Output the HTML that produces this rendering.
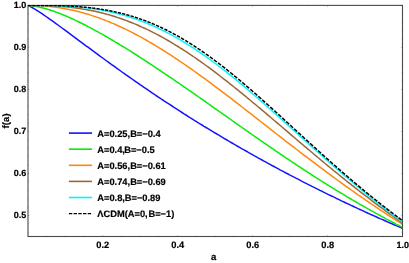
<!DOCTYPE html>
<html><head><meta charset="utf-8"><title>f(a)</title>
<style>
html,body{margin:0;padding:0;background:#fff;}
body{width:409px;height:263px;overflow:hidden;}
svg{display:block;will-change:transform;}
text{font-family:"Liberation Sans",sans-serif;font-weight:bold;font-size:9px;fill:#000;stroke:#000;stroke-width:0.18px;text-rendering:geometricPrecision;}
</style></head><body>
<svg width="409" height="263" viewBox="0 0 409 263">
<rect x="0" y="0" width="409" height="263" fill="#fff"/>
<defs><clipPath id="c"><rect x="27.5" y="4.9" width="375.5" height="231.6"/></clipPath></defs>
<g clip-path="url(#c)" fill="none" stroke-width="1.5" stroke-linejoin="round">
<path d="M28.0 5.5 L30.0 6.4 L32.0 7.5 L34.0 8.6 L36.0 9.8 L38.0 11.1 L40.0 12.4 L42.0 13.7 L44.0 15.1 L46.0 16.5 L48.0 17.9 L50.0 19.3 L52.0 20.7 L54.0 22.1 L56.0 23.6 L58.0 25.0 L60.0 26.5 L62.0 28.0 L64.0 29.4 L66.0 30.9 L68.0 32.4 L70.0 33.9 L72.0 35.4 L74.0 36.8 L76.0 38.3 L78.0 39.8 L80.0 41.3 L82.0 42.8 L84.0 44.3 L86.0 45.8 L88.0 47.2 L90.0 48.7 L92.0 50.2 L94.0 51.7 L96.0 53.1 L98.0 54.6 L100.0 56.1 L102.0 57.5 L104.0 59.0 L106.0 60.5 L108.0 61.9 L110.0 63.4 L112.0 64.8 L114.0 66.2 L116.0 67.7 L118.0 69.1 L120.0 70.5 L122.0 72.0 L124.0 73.4 L126.0 74.8 L128.0 76.2 L130.0 77.6 L132.0 79.0 L134.0 80.4 L136.0 81.8 L138.0 83.2 L140.0 84.6 L142.0 85.9 L144.0 87.3 L146.0 88.7 L148.0 90.0 L150.0 91.4 L152.0 92.8 L154.0 94.1 L156.0 95.5 L158.0 96.8 L160.0 98.1 L162.0 99.5 L164.0 100.8 L166.0 102.1 L168.0 103.4 L170.0 104.7 L172.0 106.0 L174.0 107.3 L176.0 108.6 L178.0 109.9 L180.0 111.2 L182.0 112.5 L184.0 113.8 L186.0 115.0 L188.0 116.3 L190.0 117.6 L192.0 118.8 L194.0 120.1 L196.0 121.3 L198.0 122.6 L200.0 123.8 L202.0 125.0 L204.0 126.3 L206.0 127.5 L208.0 128.7 L210.0 129.9 L212.0 131.1 L214.0 132.3 L216.0 133.5 L218.0 134.7 L220.0 135.9 L222.0 137.1 L224.0 138.3 L226.0 139.5 L228.0 140.7 L230.0 141.8 L232.0 143.0 L234.0 144.2 L236.0 145.3 L238.0 146.5 L240.0 147.6 L242.0 148.8 L244.0 149.9 L246.0 151.0 L248.0 152.2 L250.0 153.3 L252.0 154.4 L254.0 155.6 L256.0 156.7 L258.0 157.8 L260.0 158.9 L262.0 160.0 L264.0 161.1 L266.0 162.2 L268.0 163.3 L270.0 164.4 L272.0 165.5 L274.0 166.5 L276.0 167.6 L278.0 168.7 L280.0 169.8 L282.0 170.8 L284.0 171.9 L286.0 173.0 L288.0 174.0 L290.0 175.1 L292.0 176.1 L294.0 177.1 L296.0 178.2 L298.0 179.2 L300.0 180.2 L302.0 181.3 L304.0 182.3 L306.0 183.3 L308.0 184.3 L310.0 185.3 L312.0 186.4 L314.0 187.4 L316.0 188.4 L318.0 189.4 L320.0 190.4 L322.0 191.3 L324.0 192.3 L326.0 193.3 L328.0 194.3 L330.0 195.3 L332.0 196.2 L334.0 197.2 L336.0 198.2 L338.0 199.1 L340.0 200.1 L342.0 201.1 L344.0 202.0 L346.0 203.0 L348.0 203.9 L350.0 204.8 L352.0 205.8 L354.0 206.7 L356.0 207.6 L358.0 208.6 L360.0 209.5 L362.0 210.4 L364.0 211.3 L366.0 212.3 L368.0 213.2 L370.0 214.1 L372.0 215.0 L374.0 215.9 L376.0 216.8 L378.0 217.7 L380.0 218.6 L382.0 219.4 L384.0 220.3 L386.0 221.2 L388.0 222.1 L390.0 223.0 L392.0 223.8 L394.0 224.7 L396.0 225.6 L398.0 226.4 L400.0 227.3 L402.0 228.1 L402.5 228.3" stroke="#1414ff"/>
<path d="M28.0 5.4 L30.0 5.5 L32.0 5.7 L34.0 6.0 L36.0 6.4 L38.0 6.8 L40.0 7.2 L42.0 7.7 L44.0 8.2 L46.0 8.8 L48.0 9.4 L50.0 10.0 L52.0 10.7 L54.0 11.3 L56.0 12.1 L58.0 12.8 L60.0 13.6 L62.0 14.4 L64.0 15.2 L66.0 16.0 L68.0 16.9 L70.0 17.8 L72.0 18.7 L74.0 19.6 L76.0 20.6 L78.0 21.5 L80.0 22.5 L82.0 23.5 L84.0 24.5 L86.0 25.5 L88.0 26.6 L90.0 27.6 L92.0 28.7 L94.0 29.8 L96.0 30.8 L98.0 31.9 L100.0 33.1 L102.0 34.2 L104.0 35.3 L106.0 36.5 L108.0 37.6 L110.0 38.8 L112.0 40.0 L114.0 41.2 L116.0 42.3 L118.0 43.5 L120.0 44.8 L122.0 46.0 L124.0 47.2 L126.0 48.4 L128.0 49.7 L130.0 50.9 L132.0 52.2 L134.0 53.5 L136.0 54.7 L138.0 56.0 L140.0 57.3 L142.0 58.6 L144.0 59.9 L146.0 61.2 L148.0 62.5 L150.0 63.8 L152.0 65.1 L154.0 66.4 L156.0 67.8 L158.0 69.1 L160.0 70.4 L162.0 71.8 L164.0 73.1 L166.0 74.5 L168.0 75.8 L170.0 77.2 L172.0 78.5 L174.0 79.9 L176.0 81.3 L178.0 82.6 L180.0 84.0 L182.0 85.4 L184.0 86.8 L186.0 88.2 L188.0 89.6 L190.0 90.9 L192.0 92.3 L194.0 93.7 L196.0 95.1 L198.0 96.5 L200.0 97.9 L202.0 99.3 L204.0 100.7 L206.0 102.1 L208.0 103.5 L210.0 104.9 L212.0 106.4 L214.0 107.8 L216.0 109.2 L218.0 110.6 L220.0 112.0 L222.0 113.4 L224.0 114.8 L226.0 116.2 L228.0 117.6 L230.0 119.0 L232.0 120.5 L234.0 121.9 L236.0 123.3 L238.0 124.7 L240.0 126.1 L242.0 127.5 L244.0 128.9 L246.0 130.3 L248.0 131.7 L250.0 133.1 L252.0 134.5 L254.0 135.9 L256.0 137.3 L258.0 138.7 L260.0 140.1 L262.0 141.4 L264.0 142.8 L266.0 144.2 L268.0 145.6 L270.0 147.0 L272.0 148.3 L274.0 149.7 L276.0 151.1 L278.0 152.4 L280.0 153.8 L282.0 155.2 L284.0 156.5 L286.0 157.9 L288.0 159.2 L290.0 160.5 L292.0 161.9 L294.0 163.2 L296.0 164.5 L298.0 165.9 L300.0 167.2 L302.0 168.5 L304.0 169.8 L306.0 171.1 L308.0 172.4 L310.0 173.7 L312.0 175.0 L314.0 176.3 L316.0 177.6 L318.0 178.8 L320.0 180.1 L322.0 181.4 L324.0 182.6 L326.0 183.9 L328.0 185.1 L330.0 186.4 L332.0 187.6 L334.0 188.8 L336.0 190.1 L338.0 191.3 L340.0 192.5 L342.0 193.7 L344.0 194.9 L346.0 196.1 L348.0 197.3 L350.0 198.5 L352.0 199.7 L354.0 200.8 L356.0 202.0 L358.0 203.2 L360.0 204.3 L362.0 205.5 L364.0 206.6 L366.0 207.7 L368.0 208.9 L370.0 210.0 L372.0 211.1 L374.0 212.2 L376.0 213.3 L378.0 214.4 L380.0 215.5 L382.0 216.6 L384.0 217.7 L386.0 218.8 L388.0 219.8 L390.0 220.9 L392.0 222.0 L394.0 223.0 L396.0 224.1 L398.0 225.1 L400.0 226.1 L402.0 227.1 L402.5 227.4" stroke="#08ea08"/>
<path d="M28.0 5.4 L30.0 5.4 L32.0 5.4 L34.0 5.5 L36.0 5.5 L38.0 5.6 L40.0 5.7 L42.0 5.8 L44.0 6.0 L46.0 6.1 L48.0 6.3 L50.0 6.5 L52.0 6.7 L54.0 7.0 L56.0 7.3 L58.0 7.5 L60.0 7.8 L62.0 8.2 L64.0 8.5 L66.0 8.9 L68.0 9.3 L70.0 9.7 L72.0 10.1 L74.0 10.6 L76.0 11.0 L78.0 11.5 L80.0 12.0 L82.0 12.6 L84.0 13.1 L86.0 13.7 L88.0 14.3 L90.0 14.9 L92.0 15.6 L94.0 16.2 L96.0 16.9 L98.0 17.6 L100.0 18.3 L102.0 19.1 L104.0 19.8 L106.0 20.6 L108.0 21.4 L110.0 22.2 L112.0 23.1 L114.0 23.9 L116.0 24.8 L118.0 25.7 L120.0 26.6 L122.0 27.5 L124.0 28.5 L126.0 29.4 L128.0 30.4 L130.0 31.4 L132.0 32.4 L134.0 33.5 L136.0 34.5 L138.0 35.6 L140.0 36.6 L142.0 37.7 L144.0 38.9 L146.0 40.0 L148.0 41.1 L150.0 42.3 L152.0 43.5 L154.0 44.7 L156.0 45.9 L158.0 47.1 L160.0 48.3 L162.0 49.5 L164.0 50.8 L166.0 52.1 L168.0 53.3 L170.0 54.6 L172.0 55.9 L174.0 57.3 L176.0 58.6 L178.0 59.9 L180.0 61.3 L182.0 62.6 L184.0 64.0 L186.0 65.4 L188.0 66.8 L190.0 68.2 L192.0 69.6 L194.0 71.0 L196.0 72.4 L198.0 73.9 L200.0 75.3 L202.0 76.8 L204.0 78.2 L206.0 79.7 L208.0 81.1 L210.0 82.6 L212.0 84.1 L214.0 85.6 L216.0 87.1 L218.0 88.6 L220.0 90.1 L222.0 91.6 L224.0 93.1 L226.0 94.7 L228.0 96.2 L230.0 97.7 L232.0 99.2 L234.0 100.8 L236.0 102.3 L238.0 103.9 L240.0 105.4 L242.0 107.0 L244.0 108.5 L246.0 110.1 L248.0 111.6 L250.0 113.2 L252.0 114.7 L254.0 116.3 L256.0 117.9 L258.0 119.4 L260.0 121.0 L262.0 122.5 L264.0 124.1 L266.0 125.7 L268.0 127.2 L270.0 128.8 L272.0 130.4 L274.0 131.9 L276.0 133.5 L278.0 135.0 L280.0 136.6 L282.0 138.2 L284.0 139.7 L286.0 141.3 L288.0 142.8 L290.0 144.4 L292.0 145.9 L294.0 147.4 L296.0 149.0 L298.0 150.5 L300.0 152.1 L302.0 153.6 L304.0 155.1 L306.0 156.6 L308.0 158.2 L310.0 159.7 L312.0 161.2 L314.0 162.7 L316.0 164.2 L318.0 165.7 L320.0 167.2 L322.0 168.7 L324.0 170.2 L326.0 171.7 L328.0 173.2 L330.0 174.6 L332.0 176.1 L334.0 177.6 L336.0 179.0 L338.0 180.5 L340.0 181.9 L342.0 183.4 L344.0 184.8 L346.0 186.3 L348.0 187.7 L350.0 189.1 L352.0 190.5 L354.0 191.9 L356.0 193.4 L358.0 194.8 L360.0 196.1 L362.0 197.5 L364.0 198.9 L366.0 200.3 L368.0 201.7 L370.0 203.0 L372.0 204.4 L374.0 205.7 L376.0 207.1 L378.0 208.4 L380.0 209.8 L382.0 211.1 L384.0 212.4 L386.0 213.7 L388.0 215.0 L390.0 216.3 L392.0 217.6 L394.0 218.9 L396.0 220.2 L398.0 221.5 L400.0 222.7 L402.0 224.0 L402.5 224.3" stroke="#ff880c"/>
<path d="M28.0 5.4 L30.0 5.4 L32.0 5.4 L34.0 5.4 L36.0 5.4 L38.0 5.5 L40.0 5.5 L42.0 5.5 L44.0 5.6 L46.0 5.6 L48.0 5.7 L50.0 5.8 L52.0 5.9 L54.0 6.0 L56.0 6.1 L58.0 6.2 L60.0 6.3 L62.0 6.5 L64.0 6.7 L66.0 6.8 L68.0 7.0 L70.0 7.2 L72.0 7.5 L74.0 7.7 L76.0 8.0 L78.0 8.2 L80.0 8.5 L82.0 8.9 L84.0 9.2 L86.0 9.5 L88.0 9.9 L90.0 10.3 L92.0 10.7 L94.0 11.1 L96.0 11.5 L98.0 12.0 L100.0 12.5 L102.0 12.9 L104.0 13.5 L106.0 14.0 L108.0 14.6 L110.0 15.1 L112.0 15.7 L114.0 16.3 L116.0 17.0 L118.0 17.6 L120.0 18.3 L122.0 19.0 L124.0 19.7 L126.0 20.4 L128.0 21.2 L130.0 22.0 L132.0 22.8 L134.0 23.6 L136.0 24.4 L138.0 25.3 L140.0 26.2 L142.0 27.1 L144.0 28.0 L146.0 28.9 L148.0 29.9 L150.0 30.8 L152.0 31.8 L154.0 32.9 L156.0 33.9 L158.0 34.9 L160.0 36.0 L162.0 37.1 L164.0 38.2 L166.0 39.4 L168.0 40.5 L170.0 41.7 L172.0 42.9 L174.0 44.1 L176.0 45.3 L178.0 46.5 L180.0 47.8 L182.0 49.0 L184.0 50.3 L186.0 51.6 L188.0 52.9 L190.0 54.3 L192.0 55.6 L194.0 57.0 L196.0 58.4 L198.0 59.8 L200.0 61.2 L202.0 62.6 L204.0 64.0 L206.0 65.5 L208.0 66.9 L210.0 68.4 L212.0 69.9 L214.0 71.4 L216.0 72.9 L218.0 74.4 L220.0 76.0 L222.0 77.5 L224.0 79.1 L226.0 80.6 L228.0 82.2 L230.0 83.8 L232.0 85.4 L234.0 87.0 L236.0 88.6 L238.0 90.2 L240.0 91.8 L242.0 93.4 L244.0 95.1 L246.0 96.7 L248.0 98.4 L250.0 100.0 L252.0 101.7 L254.0 103.4 L256.0 105.0 L258.0 106.7 L260.0 108.4 L262.0 110.1 L264.0 111.7 L266.0 113.4 L268.0 115.1 L270.0 116.8 L272.0 118.5 L274.0 120.2 L276.0 121.9 L278.0 123.6 L280.0 125.3 L282.0 127.0 L284.0 128.7 L286.0 130.4 L288.0 132.1 L290.0 133.9 L292.0 135.6 L294.0 137.3 L296.0 139.0 L298.0 140.7 L300.0 142.4 L302.0 144.1 L304.0 145.8 L306.0 147.4 L308.0 149.1 L310.0 150.8 L312.0 152.5 L314.0 154.2 L316.0 155.9 L318.0 157.5 L320.0 159.2 L322.0 160.9 L324.0 162.5 L326.0 164.2 L328.0 165.9 L330.0 167.5 L332.0 169.1 L334.0 170.8 L336.0 172.4 L338.0 174.0 L340.0 175.7 L342.0 177.3 L344.0 178.9 L346.0 180.5 L348.0 182.1 L350.0 183.7 L352.0 185.3 L354.0 186.9 L356.0 188.4 L358.0 190.0 L360.0 191.6 L362.0 193.1 L364.0 194.7 L366.0 196.2 L368.0 197.7 L370.0 199.2 L372.0 200.8 L374.0 202.3 L376.0 203.8 L378.0 205.3 L380.0 206.8 L382.0 208.2 L384.0 209.7 L386.0 211.2 L388.0 212.6 L390.0 214.1 L392.0 215.5 L394.0 216.9 L396.0 218.4 L398.0 219.8 L400.0 221.2 L402.0 222.6 L402.5 222.9" stroke="#9a6836"/>
<path d="M28.0 5.4 L30.0 5.4 L32.0 5.4 L34.0 5.4 L36.0 5.4 L38.0 5.4 L40.0 5.4 L42.0 5.4 L44.0 5.5 L46.0 5.5 L48.0 5.5 L50.0 5.6 L52.0 5.6 L54.0 5.6 L56.0 5.7 L58.0 5.8 L60.0 5.8 L62.0 5.9 L64.0 6.0 L66.0 6.1 L68.0 6.2 L70.0 6.4 L72.0 6.5 L74.0 6.6 L76.0 6.8 L78.0 7.0 L80.0 7.2 L82.0 7.4 L84.0 7.6 L86.0 7.8 L88.0 8.0 L90.0 8.3 L92.0 8.6 L94.0 8.9 L96.0 9.2 L98.0 9.5 L100.0 9.8 L102.0 10.2 L104.0 10.5 L106.0 10.9 L108.0 11.3 L110.0 11.8 L112.0 12.2 L114.0 12.7 L116.0 13.2 L118.0 13.7 L120.0 14.2 L122.0 14.7 L124.0 15.3 L126.0 15.9 L128.0 16.5 L130.0 17.1 L132.0 17.8 L134.0 18.4 L136.0 19.1 L138.0 19.8 L140.0 20.5 L142.0 21.3 L144.0 22.1 L146.0 22.9 L148.0 23.7 L150.0 24.5 L152.0 25.4 L154.0 26.3 L156.0 27.2 L158.0 28.1 L160.0 29.1 L162.0 30.0 L164.0 31.0 L166.0 32.0 L168.0 33.1 L170.0 34.1 L172.0 35.2 L174.0 36.3 L176.0 37.4 L178.0 38.6 L180.0 39.7 L182.0 40.9 L184.0 42.1 L186.0 43.3 L188.0 44.6 L190.0 45.9 L192.0 47.1 L194.0 48.4 L196.0 49.8 L198.0 51.1 L200.0 52.5 L202.0 53.8 L204.0 55.2 L206.0 56.7 L208.0 58.1 L210.0 59.5 L212.0 61.0 L214.0 62.5 L216.0 64.0 L218.0 65.5 L220.0 67.0 L222.0 68.6 L224.0 70.1 L226.0 71.7 L228.0 73.3 L230.0 74.9 L232.0 76.5 L234.0 78.1 L236.0 79.7 L238.0 81.4 L240.0 83.1 L242.0 84.7 L244.0 86.4 L246.0 88.1 L248.0 89.8 L250.0 91.5 L252.0 93.2 L254.0 95.0 L256.0 96.7 L258.0 98.4 L260.0 100.2 L262.0 101.9 L264.0 103.7 L266.0 105.5 L268.0 107.2 L270.0 109.0 L272.0 110.8 L274.0 112.6 L276.0 114.4 L278.0 116.2 L280.0 118.0 L282.0 119.8 L284.0 121.6 L286.0 123.4 L288.0 125.2 L290.0 127.0 L292.0 128.8 L294.0 130.6 L296.0 132.4 L298.0 134.2 L300.0 136.1 L302.0 137.9 L304.0 139.7 L306.0 141.5 L308.0 143.3 L310.0 145.1 L312.0 146.9 L314.0 148.7 L316.0 150.5 L318.0 152.3 L320.0 154.0 L322.0 155.8 L324.0 157.6 L326.0 159.4 L328.0 161.1 L330.0 162.9 L332.0 164.7 L334.0 166.4 L336.0 168.2 L338.0 169.9 L340.0 171.7 L342.0 173.4 L344.0 175.1 L346.0 176.8 L348.0 178.5 L350.0 180.2 L352.0 181.9 L354.0 183.6 L356.0 185.3 L358.0 187.0 L360.0 188.7 L362.0 190.3 L364.0 192.0 L366.0 193.6 L368.0 195.2 L370.0 196.9 L372.0 198.5 L374.0 200.1 L376.0 201.7 L378.0 203.3 L380.0 204.9 L382.0 206.4 L384.0 208.0 L386.0 209.6 L388.0 211.1 L390.0 212.7 L392.0 214.2 L394.0 215.7 L396.0 217.2 L398.0 218.7 L400.0 220.2 L402.0 221.7 L402.5 222.1" stroke="#00f6ff"/>
</g>
<rect x="28.0" y="5.4" width="374.5" height="231.1" fill="none" stroke="#4a4a4a" stroke-width="1.1"/>
<path d="M28.0 215.5h1.2 M402.5 215.5h-1.2 M28.0 207.1h0.8 M402.5 207.1h-0.8 M28.0 198.7h0.8 M402.5 198.7h-0.8 M28.0 190.3h0.8 M402.5 190.3h-0.8 M28.0 181.9h0.8 M402.5 181.9h-0.8 M28.0 173.5h1.2 M402.5 173.5h-1.2 M28.0 165.1h0.8 M402.5 165.1h-0.8 M28.0 156.7h0.8 M402.5 156.7h-0.8 M28.0 148.3h0.8 M402.5 148.3h-0.8 M28.0 139.9h0.8 M402.5 139.9h-0.8 M28.0 131.5h1.2 M402.5 131.5h-1.2 M28.0 123.1h0.8 M402.5 123.1h-0.8 M28.0 114.7h0.8 M402.5 114.7h-0.8 M28.0 106.2h0.8 M402.5 106.2h-0.8 M28.0 97.8h0.8 M402.5 97.8h-0.8 M28.0 89.4h1.2 M402.5 89.4h-1.2 M28.0 81.0h0.8 M402.5 81.0h-0.8 M28.0 72.6h0.8 M402.5 72.6h-0.8 M28.0 64.2h0.8 M402.5 64.2h-0.8 M28.0 55.8h0.8 M402.5 55.8h-0.8 M28.0 47.4h1.2 M402.5 47.4h-1.2 M28.0 39.0h0.8 M402.5 39.0h-0.8 M28.0 30.6h0.8 M402.5 30.6h-0.8 M28.0 22.2h0.8 M402.5 22.2h-0.8 M28.0 13.8h0.8 M402.5 13.8h-0.8 M28.0 5.4h1.2 M402.5 5.4h-1.2 M28.0 232.3h0.8 M402.5 232.3h-0.8 M28.0 223.9h0.8 M402.5 223.9h-0.8 M46.3 236.5v-0.8 M46.3 5.4v0.8 M65.1 236.5v-0.8 M65.1 5.4v0.8 M83.8 236.5v-0.8 M83.8 5.4v0.8 M102.6 236.5v-1.2 M102.6 5.4v1.2 M121.3 236.5v-0.8 M121.3 5.4v0.8 M140.1 236.5v-0.8 M140.1 5.4v0.8 M158.8 236.5v-0.8 M158.8 5.4v0.8 M177.6 236.5v-1.2 M177.6 5.4v1.2 M196.3 236.5v-0.8 M196.3 5.4v0.8 M215.1 236.5v-0.8 M215.1 5.4v0.8 M233.8 236.5v-0.8 M233.8 5.4v0.8 M252.5 236.5v-1.2 M252.5 5.4v1.2 M271.3 236.5v-0.8 M271.3 5.4v0.8 M290.0 236.5v-0.8 M290.0 5.4v0.8 M308.8 236.5v-0.8 M308.8 5.4v0.8 M327.5 236.5v-1.2 M327.5 5.4v1.2 M346.3 236.5v-0.8 M346.3 5.4v0.8 M365.0 236.5v-0.8 M365.0 5.4v0.8 M383.8 236.5v-0.8 M383.8 5.4v0.8" stroke="#4a4a4a" stroke-width="0.45" fill="none"/>
<g clip-path="url(#c)" fill="none" stroke-width="1.5" stroke-linejoin="round">
<path d="M28.00 5.40L28.50 5.40L29.00 5.40L29.50 5.40L30.00 5.40L30.50 5.40L31.00 5.40L31.20 5.40M32.30 5.40L32.80 5.40L33.30 5.40L33.80 5.40L34.30 5.40L34.80 5.40L35.30 5.40L35.50 5.40M36.60 5.41L37.10 5.41L37.60 5.41L38.10 5.41L38.60 5.41L39.10 5.41L39.60 5.42L39.80 5.42M40.90 5.42L41.40 5.42L41.90 5.43L42.40 5.43L42.90 5.43L43.40 5.44L43.90 5.44L44.00 5.44M45.20 5.45L45.70 5.46L46.20 5.46L46.70 5.47L47.20 5.47L47.70 5.48L48.20 5.48L48.30 5.48M49.40 5.50L49.90 5.51L50.40 5.51L50.90 5.52L51.40 5.53L51.90 5.54L52.40 5.55L52.60 5.55M53.70 5.57L54.20 5.58L54.70 5.59L55.20 5.60L55.70 5.61L56.20 5.63L56.70 5.64L56.90 5.64M58.00 5.67L58.50 5.68L59.00 5.70L59.50 5.71L60.00 5.73L60.50 5.74L61.00 5.76L61.20 5.77M62.30 5.80L62.80 5.82L63.30 5.84L63.80 5.86L64.30 5.88L64.80 5.90L65.30 5.92L65.40 5.92M66.60 5.97L67.10 6.00L67.60 6.02L68.10 6.04L68.60 6.07L69.10 6.09L69.60 6.12L69.70 6.12M70.80 6.18L71.30 6.21L71.80 6.24L72.30 6.26L72.80 6.29L73.30 6.32L73.80 6.36L74.00 6.37M75.10 6.44L75.60 6.47L76.10 6.51L76.60 6.54L77.10 6.58L77.60 6.61L78.10 6.65L78.30 6.66M79.40 6.75L79.90 6.79L80.40 6.83L80.90 6.87L81.40 6.91L81.90 6.95L82.40 7.00L82.60 7.01M83.70 7.11L84.20 7.16L84.70 7.21L85.20 7.25L85.70 7.30L86.20 7.35L86.70 7.40L86.80 7.41M88.00 7.54L88.50 7.59L89.00 7.65L89.50 7.70L90.00 7.76L90.50 7.81L91.00 7.87L91.10 7.88M92.20 8.01L92.70 8.08L93.20 8.14L93.70 8.20L94.20 8.27L94.70 8.33L95.20 8.40L95.40 8.42M96.50 8.57L97.00 8.64L97.50 8.71L98.00 8.78L98.50 8.85L99.00 8.93L99.50 9.00L99.70 9.03M100.80 9.20L101.30 9.28L101.80 9.36L102.30 9.44L102.80 9.52L103.30 9.60L103.80 9.68L103.90 9.70M105.00 9.89L105.50 9.98L106.00 10.06L106.50 10.15L107.00 10.24L107.50 10.33L108.00 10.43L108.20 10.46M109.30 10.67L109.80 10.77L110.30 10.87L110.80 10.96L111.30 11.06L111.80 11.17L112.30 11.27L112.50 11.31M113.60 11.54L114.10 11.65L114.60 11.75L115.10 11.86L115.60 11.97L116.10 12.08L116.60 12.20L116.70 12.22M117.80 12.47L118.30 12.59L118.80 12.70L119.30 12.82L119.80 12.94L120.30 13.06L120.80 13.19L121.00 13.24M122.10 13.51L122.60 13.64L123.10 13.77L123.60 13.90L124.10 14.03L124.60 14.16L125.10 14.29L125.20 14.32M126.30 14.62L126.80 14.76L127.30 14.90L127.80 15.04L128.30 15.18L128.80 15.32L129.30 15.47L129.50 15.52M130.60 15.85L131.10 16.00L131.60 16.15L132.10 16.30L132.60 16.45L133.10 16.61L133.60 16.76L133.70 16.79M134.80 17.14L135.30 17.30L135.80 17.46L136.30 17.63L136.80 17.79L137.30 17.96L137.80 18.12L138.00 18.19M139.10 18.56L139.60 18.74L140.10 18.91L140.60 19.09L141.10 19.26L141.60 19.44L142.10 19.62L142.20 19.65M143.30 20.05L143.80 20.24L144.30 20.42L144.80 20.61L145.30 20.80L145.80 20.99L146.30 21.18L146.40 21.21M147.50 21.64L148.00 21.84L148.50 22.03L149.00 22.23L149.50 22.43L150.00 22.63L150.50 22.83L150.60 22.87M151.70 23.33L152.20 23.53L152.70 23.74L153.20 23.95L153.70 24.16L154.20 24.38L154.70 24.59L154.80 24.63M156.00 25.16L156.50 25.38L157.00 25.60L157.50 25.82L158.00 26.04L158.50 26.27L159.00 26.50L159.10 26.54M160.20 27.05L160.70 27.28L161.20 27.51L161.70 27.74L162.20 27.98L162.70 28.22L163.20 28.46M164.40 29.04L164.90 29.28L165.40 29.52L165.90 29.77L166.40 30.02L166.90 30.27L167.40 30.52M168.50 31.08L169.00 31.33L169.50 31.59L170.00 31.85L170.50 32.11L171.00 32.37L171.50 32.63L171.60 32.68M172.70 33.26L173.20 33.53L173.70 33.80L174.20 34.07L174.70 34.34L175.20 34.61L175.70 34.89L175.80 34.94M176.90 35.55L177.40 35.83L177.90 36.11L178.40 36.39L178.90 36.68L179.40 36.96L179.90 37.25M181.00 37.88L181.50 38.17L182.00 38.46L182.50 38.76L183.00 39.05L183.50 39.35L184.00 39.64L184.10 39.70M185.20 40.36L185.70 40.66L186.20 40.97L186.70 41.27L187.20 41.58L187.70 41.88L188.20 42.19M189.30 42.87L189.80 43.19L190.30 43.50L190.80 43.82L191.30 44.13L191.80 44.45L192.30 44.77L192.40 44.83M193.50 45.54L194.00 45.87L194.50 46.19L195.00 46.52L195.50 46.84L196.00 47.17L196.50 47.50M197.60 48.23L198.10 48.57L198.60 48.90L199.10 49.24L199.60 49.58L200.10 49.92L200.60 50.26M201.70 51.01L202.20 51.35L202.70 51.70L203.20 52.05L203.70 52.39L204.20 52.74L204.70 53.09M205.80 53.87L206.30 54.22L206.80 54.58L207.30 54.93L207.80 55.29L208.30 55.65L208.80 56.01M209.90 56.80L210.40 57.17L210.90 57.53L211.40 57.90L211.90 58.26L212.40 58.63L212.90 59.00M213.90 59.74L214.40 60.11L214.90 60.49L215.40 60.86L215.90 61.24L216.40 61.61L216.90 61.99M218.00 62.83L218.50 63.21L219.00 63.59L219.50 63.97L220.00 64.36L220.50 64.74L221.00 65.13M222.10 65.98L222.60 66.37L223.10 66.76L223.60 67.15L224.10 67.54L224.60 67.94L225.10 68.33M226.10 69.12L226.60 69.52L227.10 69.92L227.60 70.31L228.10 70.71L228.60 71.11L229.10 71.52M230.20 72.40L230.70 72.81L231.20 73.21L231.70 73.62L232.20 74.02L232.70 74.43L233.20 74.84M234.20 75.66L234.70 76.07L235.20 76.48L235.70 76.89L236.20 77.31L236.70 77.72L237.20 78.14M238.30 79.05L238.80 79.47L239.30 79.89L239.80 80.31L240.30 80.73L240.80 81.15L241.20 81.48M242.30 82.41L242.80 82.84L243.30 83.26L243.80 83.69L244.30 84.11L244.80 84.54L245.20 84.88M246.30 85.82L246.80 86.25L247.30 86.68L247.80 87.11L248.30 87.54L248.80 87.97L249.20 88.31M250.30 89.27L250.80 89.70L251.30 90.13L251.80 90.57L252.30 91.00L252.80 91.44L253.30 91.88M254.30 92.75L254.80 93.19L255.30 93.63L255.80 94.07L256.30 94.51L256.80 94.95L257.30 95.39M258.30 96.27L258.80 96.71L259.30 97.16L259.80 97.60L260.30 98.04L260.80 98.49L261.30 98.93M262.30 99.82L262.80 100.27L263.30 100.71L263.80 101.16L264.30 101.61L264.80 102.05L265.20 102.41M266.30 103.40L266.80 103.85L267.30 104.30L267.80 104.74L268.30 105.19L268.80 105.64L269.20 106.01M270.30 107.00L270.80 107.45L271.30 107.90L271.80 108.35L272.30 108.80L272.80 109.26L273.20 109.62M274.30 110.62L274.80 111.07L275.30 111.52L275.80 111.98L276.30 112.43L276.80 112.89L277.20 113.25M278.30 114.25L278.80 114.71L279.30 115.16L279.80 115.62L280.30 116.07L280.80 116.53L281.20 116.90M282.30 117.90L282.80 118.36L283.30 118.81L283.80 119.27L284.30 119.73L284.80 120.18L285.20 120.55M286.20 121.47L286.70 121.92L287.20 122.38L287.70 122.84L288.20 123.30L288.70 123.75L289.20 124.21M290.20 125.13L290.70 125.59L291.20 126.04L291.70 126.50L292.20 126.96L292.70 127.42L293.10 127.79M294.20 128.79L294.70 129.25L295.20 129.71L295.70 130.17L296.20 130.63L296.70 131.08L297.10 131.45M298.20 132.46L298.70 132.92L299.20 133.38L299.70 133.83L300.20 134.29L300.70 134.75L301.10 135.11M302.20 136.12L302.70 136.58L303.20 137.04L303.70 137.49L304.20 137.95L304.70 138.41L305.10 138.77M306.10 139.69L306.60 140.14L307.10 140.60L307.60 141.06L308.10 141.51L308.60 141.97L309.10 142.42M310.10 143.33L310.60 143.79L311.10 144.24L311.60 144.70L312.10 145.15L312.60 145.61L313.10 146.06M314.10 146.97L314.60 147.42L315.10 147.88L315.60 148.33L316.10 148.78L316.60 149.24L317.00 149.60M318.10 150.59L318.60 151.04L319.10 151.49L319.60 151.95L320.10 152.40L320.60 152.85L321.00 153.21M322.10 154.20L322.60 154.65L323.10 155.10L323.60 155.55L324.10 155.99L324.60 156.44L325.00 156.80M326.10 157.79L326.60 158.23L327.10 158.68L327.60 159.13L328.10 159.57L328.60 160.02L329.00 160.37M330.10 161.35L330.60 161.80L331.10 162.24L331.60 162.68L332.10 163.13L332.60 163.57L333.00 163.92M334.10 164.90L334.60 165.34L335.10 165.78L335.60 166.22L336.10 166.66L336.60 167.10L337.00 167.45M338.10 168.41L338.60 168.85L339.10 169.29L339.60 169.73L340.10 170.16L340.60 170.60L341.00 170.95M342.10 171.91L342.60 172.34L343.10 172.78L343.60 173.21L344.10 173.64L344.60 174.08L345.00 174.42M346.10 175.37L346.60 175.80L347.10 176.23L347.60 176.66L348.10 177.09L348.60 177.52L349.00 177.87M350.10 178.81L350.60 179.24L351.10 179.66L351.60 180.09L352.10 180.51L352.60 180.94L353.10 181.36M354.10 182.21L354.60 182.64L355.10 183.06L355.60 183.48L356.10 183.90L356.60 184.32L357.10 184.75M358.10 185.59L358.60 186.00L359.10 186.42L359.60 186.84L360.10 187.26L360.60 187.68L361.10 188.09M362.20 189.01L362.70 189.42L363.20 189.84L363.70 190.25L364.20 190.66L364.70 191.08L365.10 191.41M366.20 192.31L366.70 192.72L367.20 193.13L367.70 193.54L368.20 193.95L368.70 194.36L369.20 194.77M370.20 195.58L370.70 195.99L371.20 196.39L371.70 196.80L372.20 197.20L372.70 197.60L373.20 198.01M374.30 198.89L374.80 199.29L375.30 199.69L375.80 200.09L376.30 200.49L376.80 200.89L377.30 201.29M378.30 202.09L378.80 202.48L379.30 202.88L379.80 203.27L380.30 203.67L380.80 204.06L381.30 204.46M382.40 205.32L382.90 205.71L383.40 206.10L383.90 206.49L384.40 206.88L384.90 207.27L385.40 207.66M386.40 208.44L386.90 208.82L387.40 209.21L387.90 209.60L388.40 209.98L388.90 210.37L389.40 210.75M390.50 211.59L391.00 211.97L391.50 212.36L392.00 212.74L392.50 213.12L393.00 213.50L393.50 213.87M394.60 214.71L395.10 215.08L395.60 215.46L396.10 215.83L396.60 216.21L397.10 216.58L397.60 216.96M398.60 217.70L399.10 218.07L399.60 218.45L400.10 218.82L400.60 219.19L401.10 219.56L401.60 219.92" stroke="#000000" stroke-width="1.45"/>
</g>
<g style="mix-blend-mode:multiply">
<text x="26.2" y="218.4" text-anchor="end">0.5</text>
<text x="26.2" y="176.4" text-anchor="end">0.6</text>
<text x="26.2" y="134.4" text-anchor="end">0.7</text>
<text x="26.2" y="92.3" text-anchor="end">0.8</text>
<text x="26.2" y="50.3" text-anchor="end">0.9</text>
<text x="26.2" y="8.3" text-anchor="end">1.0</text>
<text x="102.8" y="247.6" text-anchor="middle" style="font-size:9.3px">0.2</text>
<text x="177.8" y="247.6" text-anchor="middle" style="font-size:9.3px">0.4</text>
<text x="252.7" y="247.6" text-anchor="middle" style="font-size:9.3px">0.6</text>
<text x="327.7" y="247.6" text-anchor="middle" style="font-size:9.3px">0.8</text>
<text x="402.7" y="247.6" text-anchor="middle" style="font-size:9.0px">1.0</text>
<text x="213.6" y="260.3" text-anchor="middle" style="font-size:9.6px">a</text>
<text transform="translate(8.6 120.9) rotate(-90)" text-anchor="middle" style="font-size:9.4px;letter-spacing:0.15px">f(a)</text>
<path d="M68.9 133.1H92.1" stroke="#1414ff" fill="none" stroke-width="1.6"/>
<text x="97.3" y="136.7" style="font-size:9.3px">A=0.25,<tspan dx="0">B=−0.4</tspan></text>
<path d="M68.9 149.2H92.1" stroke="#08ea08" fill="none" stroke-width="1.6"/>
<text x="97.3" y="152.8" style="font-size:9.3px">A=0.4,<tspan dx="-0.75">B=−0.5</tspan></text>
<path d="M68.9 165.3H92.1" stroke="#ff880c" fill="none" stroke-width="1.6"/>
<text x="97.3" y="168.9" style="font-size:9.3px">A=0.56,<tspan dx="0">B=−0.61</tspan></text>
<path d="M68.9 181.4H92.1" stroke="#9a6836" fill="none" stroke-width="1.6"/>
<text x="97.3" y="185.0" style="font-size:9.3px">A=0.74,<tspan dx="0">B=−0.69</tspan></text>
<path d="M68.9 197.5H92.1" stroke="#00f6ff" fill="none" stroke-width="1.6"/>
<text x="97.3" y="201.1" style="font-size:9.3px">A=0.8,<tspan dx="-0.2">B=−0.89</tspan></text>
<path d="M68.9 213.6H92.1" stroke="#000000" fill="none" stroke-dasharray="3.4 1.3" stroke-width="1.35"/>
<text x="97.3" y="217.2" style="font-size:9.3px">ΛCDM(A=0,<tspan dx="0.8">B=−1)</tspan></text>
</g>
</svg>
</body></html>
